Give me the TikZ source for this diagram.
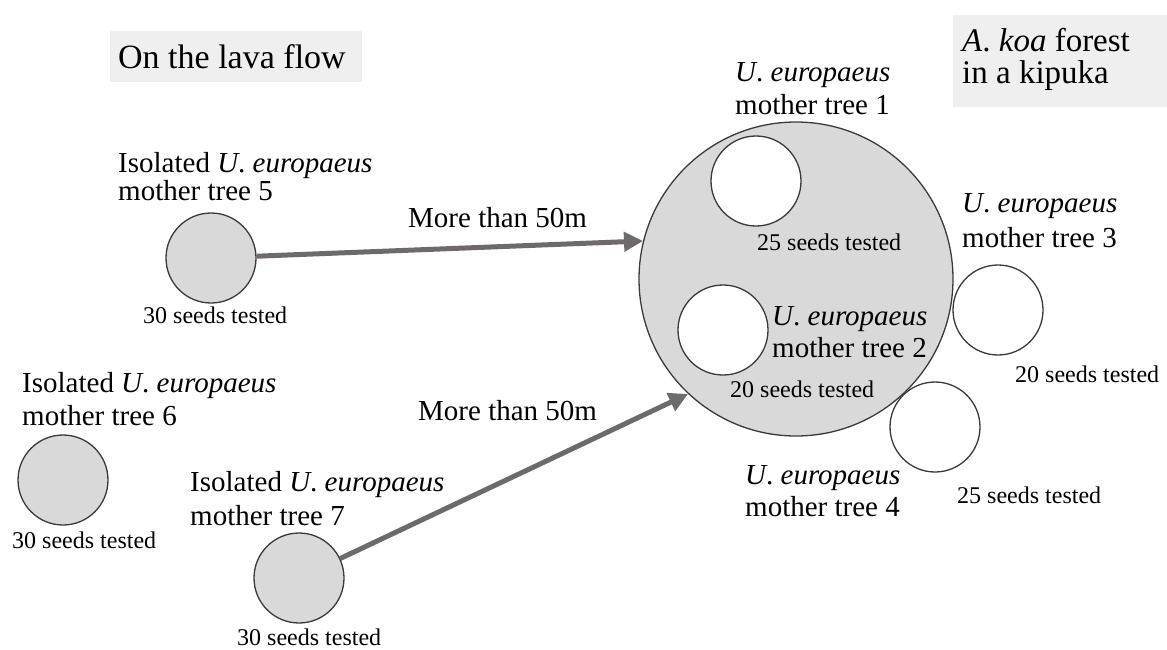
\documentclass[tikz,border=0pt]{standalone}
\usepackage{fontspec}
\setmainfont{LiberationSerif}[Extension=.ttf, UprightFont=*-Regular, ItalicFont=*-Italic, BoldFont=*-Bold, BoldItalicFont=*-BoldItalic]
\usetikzlibrary{arrows.meta}
\definecolor{arrowgray}{HTML}{6E6A6A}
\definecolor{circfill}{HTML}{D9D9D9}
\definecolor{boxfill}{HTML}{EFEFEF}
\definecolor{circline}{HTML}{3A3A3A}
\tikzset{
  tree/.style={circle, draw=circline, line width=1.3pt, minimum size=90pt, inner sep=0pt, fill=circfill},
  wtree/.style={tree, fill=white},
  lbl/.style={font=\fontsize{29}{33}\selectfont, inner sep=0pt, align=left, anchor=north west},
  small/.style={font=\fontsize{24}{28}\selectfont, inner sep=0pt, anchor=base west},
  dist/.style={font=\fontsize{29}{33}\selectfont, inner sep=0pt, anchor=base west},
  arr/.style={draw=arrowgray, line width=5pt, -{Triangle[length=19pt,width=19pt]}},
  hbox/.style={fill=boxfill, draw=none}
}
\begin{document}
\begin{tikzpicture}[x=1pt,y=-1pt]
\useasboundingbox (0,0) rectangle (1167,649);
% header boxes
\fill[boxfill] (110,31) rectangle (362,82);
\node[dist, font=\fontsize{34}{38}\selectfont] (lava) at (118,68) {On the lava flow};
\fill[boxfill] (953,15) rectangle (1167,107);
\node[lbl, font=\fontsize{33}{32}\selectfont] (koa) at (962,28) {\textit{A}. \textit{koa} forest\\in a kipuka};
% big kipuka circle
\node[tree, minimum size=314pt] (big) at (796,279) {};
% trees
\node[wtree] (t1) at (756,181) {};
\node[wtree] (t2) at (723,330) {};
\node[wtree] (t3) at (998,310) {};
\node[wtree] (t4) at (935,427) {};
\node[tree] (t5) at (211,258) {};
\node[tree] (t6) at (63,480) {};
\node[tree] (t7) at (299,578) {};
% labels
\node[lbl] (l1) at (735,62.5) {\textit{U}. \textit{europaeus}\\mother tree 1};
\node[lbl, font=\fontsize{29}{32}\selectfont] (l2) at (772,306.5) {\textit{U}. \textit{europaeus}\\mother tree 2};
\node[lbl, font=\fontsize{29}{35}\selectfont] (l3) at (962,193.5) {\textit{U}. \textit{europaeus}\\mother tree 3};
\node[lbl, font=\fontsize{29}{32}\selectfont] (l4) at (745,465.5) {\textit{U}. \textit{europaeus}\\mother tree 4};
\node[lbl, font=\fontsize{29}{28}\selectfont] (l5) at (118,152.5) {Isolated \textit{U}. \textit{europaeus}\\mother tree 5};
\node[lbl] (l6) at (22,372.5) {Isolated \textit{U}. \textit{europaeus}\\mother tree 6};
\node[lbl, font=\fontsize{29}{34}\selectfont] (l7) at (190,471.5) {Isolated \textit{U}. \textit{europaeus}\\mother tree 7};
% seed counts
\node[small] (s1) at (757,250) {25 seeds tested};
\node[small] (s2) at (730,397) {20 seeds tested};
\node[small] (s3) at (1015,382) {20 seeds tested};
\node[small] (s4) at (957,503) {25 seeds tested};
\node[small] (s5) at (143,323) {30 seeds tested};
\node[small] (s6) at (12,548) {30 seeds tested};
\node[small] (s7) at (237,645) {30 seeds tested};
% arrows
\coordinate (tip1) at (643,241);
\coordinate (tip2) at (688,394);
\draw[arr] (t5) -- (tip1);
\draw[arr] (t7) -- (tip2);
\node[dist] (d1) at (408,227) {More than 50m};
\node[dist] (d2) at (418,420) {More than 50m};
\end{tikzpicture}
\end{document}
